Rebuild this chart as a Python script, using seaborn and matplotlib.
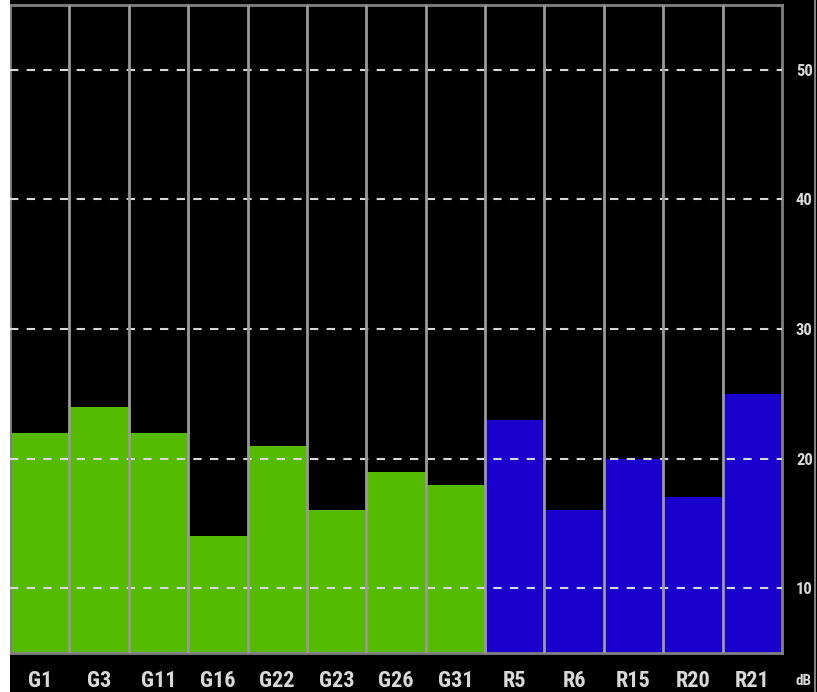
import matplotlib
matplotlib.use("Agg")
import matplotlib.pyplot as plt
import matplotlib.patches as mpatches
from matplotlib import font_manager
import seaborn as sns
import pandas as pd

# channel levels in dB
channels = ["G1", "G3", "G11", "G16", "G22", "G23", "G26", "G31",
            "R5", "R6", "R15", "R20", "R21"]
levels = [22, 24, 22, 14, 21, 16, 19, 18, 23, 16, 20, 17, 25]
groups = ["G"] * 8 + ["R"] * 5
y_ticks = [10, 20, 30, 40, 50]

# a narrow bold face looks closest to the meter display
installed = {f.name for f in font_manager.fontManager.ttflist}
family = [n for n in ["Liberation Sans Narrow", "Roboto Condensed", "Arial Narrow"]
          if n in installed][:1] + ["DejaVu Sans"]

sns.set_style("dark")
plt.rcParams["font.family"] = family
plt.rcParams["font.stretch"] = "condensed"

W, H = 817, 692
fig = plt.figure(figsize=(W / 100, H / 100), dpi=100, facecolor="black")
ax = fig.add_axes([10 / W, 1 - 653 / H, 772 / W, 648 / H])
ax.set_facecolor("black")

# white strip on the left, thin frame line on the right
fig.patches.append(mpatches.Rectangle((0, 0), 10 / W, 1, transform=fig.transFigure,
                                      facecolor="white", edgecolor="none"))
fig.patches.append(mpatches.Rectangle((814 / W, 0), 2 / W, 1, transform=fig.transFigure,
                                      facecolor="#808080", edgecolor="none"))

df = pd.DataFrame({"channel": channels, "level": levels, "group": groups})
sns.barplot(data=df, x="channel", y="level", hue="group",
            palette={"G": "#55bb00", "R": "#1a00cc"}, saturation=1, width=1.0,
            edgecolor="none", linewidth=0, dodge=False, legend=False, ax=ax)

ax.set_ylim(5, 55)
ax.set_xlim(-0.5, len(channels) - 0.5)

# grey separators between channels
for i in range(1, len(channels)):
    ax.axvline(i - 0.5, color="#9a9a9a", lw=2, zorder=4)

ax.set_yticks(y_ticks)
ax.yaxis.grid(True, color="#d8d8d8", linestyle=(0, (4, 4)), lw=1.5, zorder=3)
ax.xaxis.grid(False)
ax.set_axisbelow(False)

ax.yaxis.tick_right()
ax.tick_params(axis="y", length=0, pad=10, labelsize=12, labelcolor="#d8d8d8")
ax.tick_params(axis="x", length=0, pad=12, labelsize=16, labelcolor="#d8d8d8")
for lab in ax.get_xticklabels() + ax.get_yticklabels():
    lab.set_fontweight("bold")
ax.set_xlabel("")
ax.set_ylabel("")

for s in ax.spines.values():
    s.set_color("#808080")
    s.set_linewidth(2)

fig.text(804 / W, 1 - 681 / H, "dB", color="#d8d8d8", fontsize=11,
         ha="center", va="center", fontweight="bold")

fig.savefig("out.png", dpi=100, facecolor="black")
